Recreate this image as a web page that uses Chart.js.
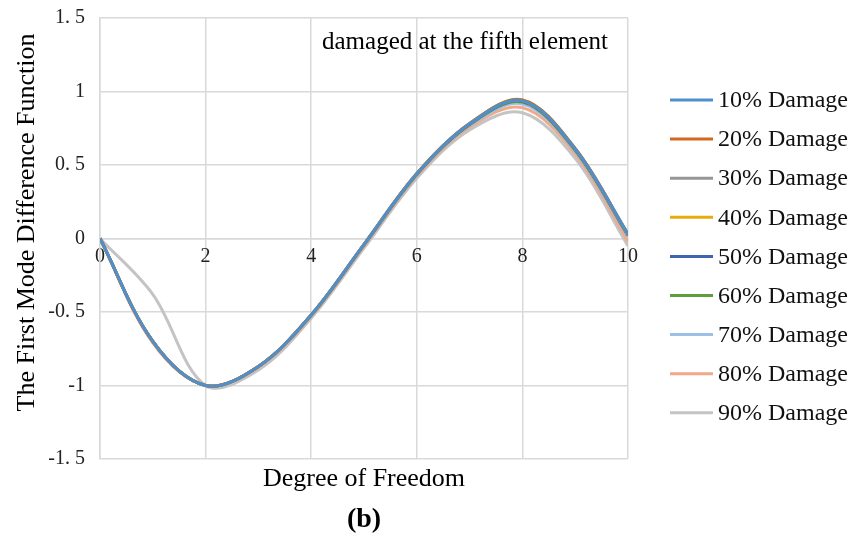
<!DOCTYPE html>
<html>
<head>
<meta charset="utf-8">
<script src="https://cdn.jsdelivr.net/npm/chart.js@4/dist/chart.umd.min.js"></script>
<style>
  html, body { margin: 0; padding: 0; background: #ffffff; }
  #wrap { position: relative; width: 862px; height: 538px; }
</style>
</head>
<body>
<div id="wrap"><canvas id="c" width="862" height="538"></canvas></div>
<script>
// ---- data ----
const degreesOfFreedom = [0, 1, 2, 3, 4, 5, 6, 7, 8, 9, 10];
const seriesLabels = ['10% Damage', '20% Damage', '30% Damage', '40% Damage', '50% Damage',
                      '60% Damage', '70% Damage', '80% Damage', '90% Damage'];
const damage10 = [0, -0.70, -1.00, -0.870, -0.520, -0.040, 0.440, 0.780, 0.938, 0.610, 0.030];
const damage20 = [0, -0.70, -1.00, -0.870, -0.520, -0.040, 0.442, 0.782, 0.942, 0.612, 0.030];
const damage30 = [0, -0.70, -1.00, -0.870, -0.520, -0.041, 0.440, 0.780, 0.937, 0.608, 0.026];
const damage40 = [0, -0.70, -1.00, -0.870, -0.520, -0.040, 0.442, 0.782, 0.943, 0.611, 0.028];
const damage50 = [0, -0.70, -1.00, -0.870, -0.521, -0.042, 0.438, 0.777, 0.934, 0.605, 0.024];
const damage60 = [0, -0.70, -1.00, -0.871, -0.522, -0.043, 0.436, 0.774, 0.928, 0.600, 0.020];
const damage70 = [0, -0.70, -1.00, -0.872, -0.524, -0.046, 0.431, 0.768, 0.915, 0.592, 0.010];
const damage80 = [0, -0.71, -1.00, -0.875, -0.528, -0.052, 0.424, 0.758, 0.890, 0.574, -0.020];
const damage90 = [0, -0.38, -1.00, -0.895, -0.542, -0.066, 0.410, 0.738, 0.855, 0.545, -0.050];
const seriesValues = [damage10, damage20, damage30, damage40, damage50, damage60, damage70, damage80, damage90];
const xTickValues = [0, 2, 4, 6, 8, 10];
const xTickLabels = ['0', '2', '4', '6', '8', '10'];
const yTickValues = [-1.5, -1, -0.5, 0, 0.5, 1, 1.5];
const yTickLabels = ['-1. 5', '-1', '-0. 5', '0', '0. 5', '1', '1. 5'];
const xTitle = 'Degree of Freedom';
const yTitle = 'The First Mode Difference Function';
const panelLabel = '(b)';
const noteText = 'damaged at the fifth element';

// ---- styles ----
const seriesColors = ['#4F8FCB', '#D2691E', '#969696', '#E6AC0C', '#3F63AE',
                      '#5D9E3C', '#9DC0E6', '#F2A98A', '#C4C4C4'];
const serif = "'Liberation Serif', 'Times New Roman', serif";
const gridColor = '#d9d9d9';

const datasets = seriesLabels.map((label, i) => ({
  label: label,
  data: degreesOfFreedom.map((x, j) => ({ x: x, y: seriesValues[i][j] })),
  borderColor: seriesColors[i],
  backgroundColor: seriesColors[i],
  borderWidth: 3,
  pointRadius: 0,
  pointHoverRadius: 0,
  tension: 0.35,
  fill: false
}));

const extrasPlugin = {
  id: 'extras',
  afterDraw(chart) {
    const ctx = chart.ctx;
    ctx.save();
    // y axis title
    ctx.save();
    ctx.translate(27, 222.5);
    ctx.rotate(-Math.PI / 2);
    ctx.font = "26px " + serif;
    ctx.fillStyle = '#000';
    ctx.textAlign = 'center';
    ctx.textBaseline = 'middle';
    ctx.fillText(yTitle, 0, 0);
    ctx.restore();
    // note
    ctx.font = "25px " + serif;
    ctx.fillStyle = '#000';
    ctx.textAlign = 'left';
    ctx.textBaseline = 'alphabetic';
    ctx.fillText(noteText, 322, 49);
    // legend
    chart.data.datasets.forEach((ds, i) => {
      const y = 100 + i * 39.1;
      ctx.strokeStyle = ds.borderColor;
      ctx.lineWidth = 3;
      ctx.lineCap = 'butt';
      ctx.beginPath();
      ctx.moveTo(670, y);
      ctx.lineTo(713, y);
      ctx.stroke();
      ctx.font = "24px " + serif;
      ctx.fillStyle = '#111';
      ctx.textAlign = 'left';
      ctx.textBaseline = 'middle';
      ctx.fillText(ds.label, 718, y + 1);
    });
    ctx.restore();
  }
};

new Chart(document.getElementById('c'), {
  type: 'line',
  data: { datasets: datasets },
  plugins: [extrasPlugin],
  options: {
    responsive: false,
    animation: false,
    events: [],
    layout: { padding: { top: 18, right: 234, left: 0, bottom: 0 } },
    scales: {
      x: {
        type: 'linear',
        position: { y: 0 },
        min: 0,
        max: 10,
        afterBuildTicks(scale) { scale.ticks = xTickValues.map(v => ({ value: v })); },
        ticks: {
          padding: 6,
          maxRotation: 0,
          autoSkip: false,
          color: '#222',
          font: { family: serif, size: 20 },
          callback(value) { const k = xTickValues.indexOf(value); return k >= 0 ? xTickLabels[k] : ''; }
        },
        grid: { color: gridColor, lineWidth: 1.5, drawTicks: false },
        border: { display: true, color: gridColor, width: 1.5 }
      },
      y: {
        type: 'linear',
        position: 'left',
        min: -1.5,
        max: 1.5,
        afterBuildTicks(scale) { scale.ticks = yTickValues.map(v => ({ value: v })); },
        afterFit(scale) { scale.width = 100; },
        ticks: {
          padding: 0,
          color: '#222',
          font: { family: serif, size: 20 },
          callback(value) { const k = yTickValues.indexOf(value); return k >= 0 ? yTickLabels[k] : ''; }
        },
        grid: { color: gridColor, lineWidth: 1.5, drawTicks: true, tickLength: 15, tickColor: 'rgba(0,0,0,0)' },
        border: { display: true, color: gridColor, width: 1.5 }
      }
    },
    plugins: {
      legend: { display: false },
      tooltip: { enabled: false },
      subtitle: {
        display: true,
        position: 'bottom',
        fullSize: false,
        text: xTitle,
        color: '#000',
        font: { family: serif, size: 26, weight: 'normal', lineHeight: 1.2 },
        padding: { top: 4.4, bottom: 0 }
      },
      title: {
        display: true,
        position: 'bottom',
        fullSize: false,
        text: panelLabel,
        color: '#000',
        font: { family: serif, size: 28, weight: 'bold', lineHeight: 1.2 },
        padding: { top: 8.6, bottom: 1.2 }
      }
    }
  }
});
</script>
</body>
</html>
